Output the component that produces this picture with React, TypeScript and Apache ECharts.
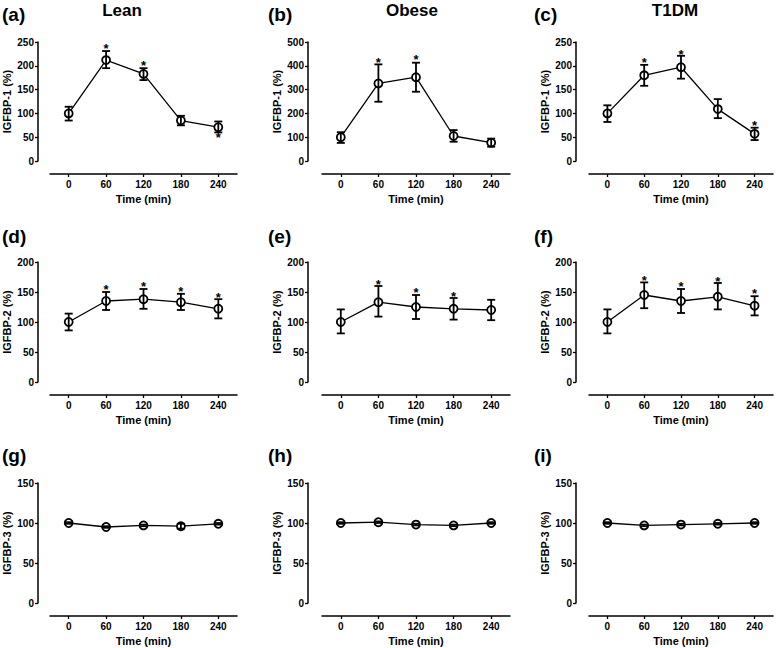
import React, { useEffect, useRef } from "react";
import * as echarts from "echarts";

// ---- data ----
const times = [0, 60, 120, 180, 240];

const groups = ["Lean", "Obese", "T1DM"];
const panelLetters = ["(a)", "(b)", "(c)", "(d)", "(e)", "(f)", "(g)", "(h)", "(i)"];
const rowTitles = ["IGFBP-1 (%)", "IGFBP-2 (%)", "IGFBP-3 (%)"];
const xTitle = "Time (min)";

// IGFBP-1
const leanBP1Mean = [100, 212, 183, 85, 71];
const leanBP1Lo = [85, 195, 170, 75, 60];
const leanBP1Hi = [114, 231, 195, 95, 83];
const leanBP1Star = [null, 242, 207, null, 55];

const obeseBP1Mean = [100, 326, 352, 105, 77];
const obeseBP1Lo = [76, 249, 291, 81, 60];
const obeseBP1Hi = [121, 406, 413, 130, 94];
const obeseBP1Star = [null, 427, 438, null, null];

const t1dmBP1Mean = [100, 180, 197, 109, 57];
const t1dmBP1Lo = [82, 158, 173, 90, 44];
const t1dmBP1Hi = [117, 202, 221, 130, 70];
const t1dmBP1Star = [null, 214, 231, null, 81];

// IGFBP-2
const leanBP2Mean = [100, 135, 138, 133, 122];
const leanBP2Lo = [86, 120, 122, 120, 106];
const leanBP2Hi = [114, 150, 155, 147, 138];
const leanBP2Star = [null, 160, 164, 156, 146];

const obeseBP2Mean = [100, 133, 125, 122, 120];
const obeseBP2Lo = [81, 109, 105, 104, 103];
const obeseBP2Hi = [121, 160, 145, 140, 137];
const obeseBP2Star = [null, 168, 154, 148, null];

const t1dmBP2Mean = [100, 145, 135, 142, 127];
const t1dmBP2Lo = [81, 123, 115, 121, 111];
const t1dmBP2Hi = [121, 166, 155, 165, 143];
const t1dmBP2Star = [null, 175, 164, 173, 153];

// IGFBP-3
const leanBP3Mean = [100, 95, 97, 96, 99];
const leanBP3Lo = [99, 94, 96, 93, 98];
const leanBP3Hi = [101, 96, 98, 99, 100];
const leanBP3Star = [null, null, null, null, null];

const obeseBP3Mean = [100, 101, 98, 97, 100];
const obeseBP3Lo = [99, 100, 97, 96, 99];
const obeseBP3Hi = [101, 102, 99, 98, 101];
const obeseBP3Star = [null, null, null, null, null];

const t1dmBP3Mean = [100, 97, 98, 99, 100];
const t1dmBP3Lo = [99, 96, 97, 98, 99];
const t1dmBP3Hi = [101, 98, 99, 100, 101];
const t1dmBP3Star = [null, null, null, null, null];

const yMax = [
  [250, 500, 250],
  [200, 200, 200],
  [150, 150, 150],
];
const yInterval = [
  [50, 100, 50],
  [50, 50, 50],
  [50, 50, 50],
];

const panelData = [
  [
    [leanBP1Mean, leanBP1Lo, leanBP1Hi, leanBP1Star],
    [obeseBP1Mean, obeseBP1Lo, obeseBP1Hi, obeseBP1Star],
    [t1dmBP1Mean, t1dmBP1Lo, t1dmBP1Hi, t1dmBP1Star],
  ],
  [
    [leanBP2Mean, leanBP2Lo, leanBP2Hi, leanBP2Star],
    [obeseBP2Mean, obeseBP2Lo, obeseBP2Hi, obeseBP2Star],
    [t1dmBP2Mean, t1dmBP2Lo, t1dmBP2Hi, t1dmBP2Star],
  ],
  [
    [leanBP3Mean, leanBP3Lo, leanBP3Hi, leanBP3Star],
    [obeseBP3Mean, obeseBP3Lo, obeseBP3Hi, obeseBP3Star],
    [t1dmBP3Mean, t1dmBP3Lo, t1dmBP3Hi, t1dmBP3Star],
  ],
];

// ---- layout ----
const FONT = "'Liberation Sans', Arial, Helvetica, sans-serif";
const colLeft = [50, 322, 589];
const colWidth = [187, 188, 184];
const yAxisOffset = [12, 14, 13];
const rowTop = [42, 262, 483];
const rowHeight = [119, 120, 120];
const xOffset = 13;

export default function App() {
  const ref = useRef<HTMLDivElement>(null);

  useEffect(() => {
    if (!ref.current) return;
    const chart = echarts.init(ref.current, null, { renderer: "svg" });

    const grids: any[] = [];
    const xAxes: any[] = [];
    const yAxes: any[] = [];
    const series: any[] = [];
    const graphics: any[] = [];

    for (let r = 0; r < 3; r++) {
      for (let c = 0; c < 3; c++) {
        const idx = r * 3 + c;
        grids.push({
          left: colLeft[c],
          top: rowTop[r],
          width: colWidth[c],
          height: rowHeight[r],
          containLabel: false,
        });
        xAxes.push({
          type: "value",
          gridIndex: idx,
          min: -30,
          max: 270,
          offset: xOffset,
          splitLine: { show: false },
          axisLine: { show: true, onZero: false, lineStyle: { color: "#000", width: 1.5 } },
          axisTick: {
            show: true,
            length: 3,
            customValues: times,
            lineStyle: { color: "#000", width: 1.3 },
          },
          axisLabel: {
            show: true,
            customValues: times,
            margin: 5,
            color: "#000",
            fontFamily: FONT,
            fontWeight: "bold",
            fontSize: 10,
          },
        });
        yAxes.push({
          type: "value",
          gridIndex: idx,
          min: 0,
          max: yMax[r][c],
          interval: yInterval[r][c],
          offset: yAxisOffset[c],
          splitLine: { show: false },
          axisLine: { show: true, onZero: false, lineStyle: { color: "#000", width: 1.5 } },
          axisTick: { show: true, length: 3, lineStyle: { color: "#000", width: 1.3 } },
          axisLabel: {
            margin: 4,
            color: "#000",
            fontFamily: FONT,
            fontWeight: "bold",
            fontSize: 10,
          },
        });

        const [mean, lo, hi, star] = panelData[r][c];

        series.push({
          type: "line",
          xAxisIndex: idx,
          yAxisIndex: idx,
          data: times.map((t, i) => [t, mean[i]]),
          symbol: "circle",
          symbolSize: 8,
          lineStyle: { color: "#000", width: 1.3 },
          itemStyle: { color: "#fff", borderColor: "#000", borderWidth: 1.8 },
          z: 3,
        });

        series.push({
          type: "custom",
          xAxisIndex: idx,
          yAxisIndex: idx,
          data: times.map((t, i) => [t, lo[i], hi[i]]),
          z: 4,
          renderItem: (params: any, api: any) => {
            const x = api.value(0);
            const pLo = api.coord([x, api.value(1)]);
            const pHi = api.coord([x, api.value(2)]);
            const cw = 4;
            const st = { stroke: "#000", lineWidth: 1.8 };
            return {
              type: "group",
              children: [
                { type: "line", shape: { x1: pLo[0], y1: pLo[1], x2: pHi[0], y2: pHi[1] }, style: st },
                { type: "line", shape: { x1: pHi[0] - cw, y1: pHi[1], x2: pHi[0] + cw, y2: pHi[1] }, style: st },
                { type: "line", shape: { x1: pLo[0] - cw, y1: pLo[1], x2: pLo[0] + cw, y2: pLo[1] }, style: st },
              ],
            };
          },
        });

        const starData = times
          .map((t, i) => [t, star[i]])
          .filter((d) => d[1] !== null && d[1] !== undefined);
        if (starData.length) {
          series.push({
            type: "custom",
            xAxisIndex: idx,
            yAxisIndex: idx,
            data: starData,
            z: 5,
            renderItem: (params: any, api: any) => {
              const p = api.coord([api.value(0), api.value(1)]);
              return {
                type: "text",
                x: p[0],
                y: p[1] + 3,
                style: {
                  text: "*",
                  fill: "#000",
                  font: `bold 13px ${FONT}`,
                  align: "center",
                  verticalAlign: "middle",
                },
              };
            },
          });
        }

        // y-axis title
        const yAxisX = colLeft[c] - yAxisOffset[c];
        graphics.push({
          type: "text",
          x: yAxisX - 31,
          y: rowTop[r] + rowHeight[r] / 2,
          rotation: Math.PI / 2,
          style: {
            text: rowTitles[r],
            fill: "#000",
            font: `bold 11px ${FONT}`,
            align: "center",
            verticalAlign: "middle",
          },
        });
        // x-axis title
        graphics.push({
          type: "text",
          x: colLeft[c] + colWidth[c] / 2,
          y: rowTop[r] + rowHeight[r] + xOffset + 25,
          style: {
            text: xTitle,
            fill: "#000",
            font: `bold 11px ${FONT}`,
            align: "center",
            verticalAlign: "middle",
          },
        });
      }
    }

    // panel letters
    const letterX = [2, 268, 534];
    const letterY = [14, 236, 455];
    for (let r = 0; r < 3; r++) {
      for (let c = 0; c < 3; c++) {
        graphics.push({
          type: "text",
          x: letterX[c],
          y: letterY[r],
          style: {
            text: panelLetters[r * 3 + c],
            fill: "#000",
            font: `bold 19px ${FONT}`,
            align: "left",
            verticalAlign: "middle",
          },
        });
      }
    }
    // group titles
    const titleX = [122, 412, 675];
    groups.forEach((g, c) => {
      graphics.push({
        type: "text",
        x: titleX[c],
        y: 10,
        style: {
          text: g,
          fill: "#000",
          font: `bold 17px ${FONT}`,
          align: "center",
          verticalAlign: "middle",
        },
      });
    });

    chart.setOption({
      animation: false,
      backgroundColor: "#fff",
      grid: grids,
      xAxis: xAxes,
      yAxis: yAxes,
      series,
      graphic: graphics,
    });

    return () => chart.dispose();
  }, []);

  return (
    <div
      ref={ref}
      style={{ position: "fixed", left: 0, top: 0, width: 777, height: 648 }}
    />
  );
}
